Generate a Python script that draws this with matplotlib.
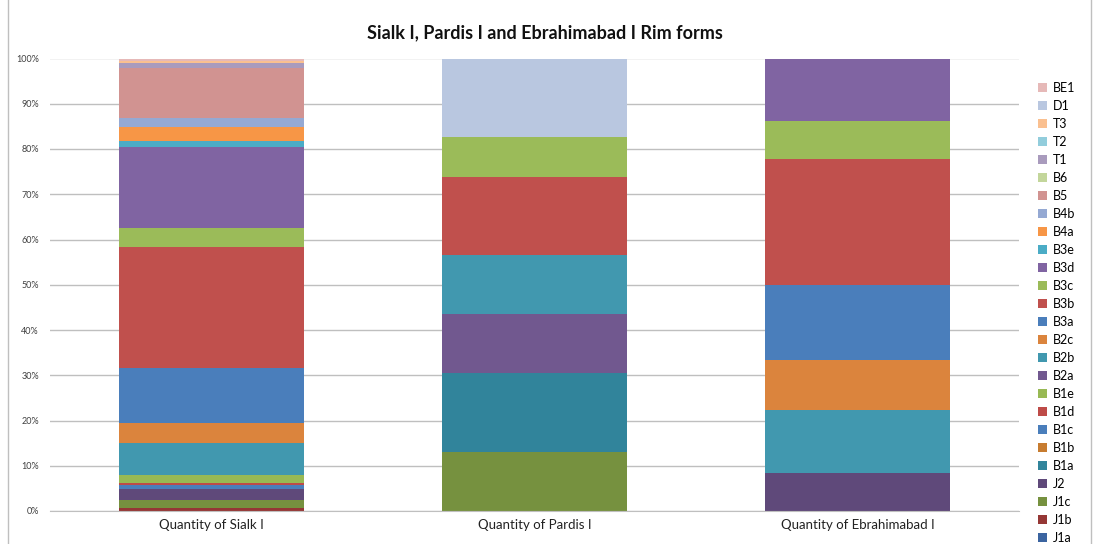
import matplotlib
matplotlib.use("Agg")
import matplotlib.pyplot as plt
from matplotlib.lines import Line2D
from matplotlib.patches import Patch
import numpy as np

# categorias y series (orden de apilado, de abajo hacia arriba)
categories = ["Quantity of Sialk I", "Quantity of Pardis I", "Quantity of Ebrahimabad I"]
series_names = ["J1a", "J1b", "J1c", "J2", "B1a", "B1b", "B1c", "B1d", "B1e",
                "B2a", "B2b", "B2c", "B3a", "B3b", "B3c", "B3d", "B3e",
                "B4a", "B4b", "B5", "B6", "T1", "T2", "T3", "D1", "BE1"]

# valores (porcentaje aproximado / conteos)
sialk = [0, 0.6, 1.8, 2.4, 0, 0, 0.9, 0.45, 1.8,
         0, 7.1, 4.4, 12.2, 26.7, 4.1, 17.8, 1.3,
         3.2, 2.0, 11.0, 0, 1.1, 0, 0.5, 0, 0.5]
pardis = [0, 0, 3, 0, 4, 0, 0, 0, 0,
          3, 3, 0, 0, 4, 2, 0, 0,
          0, 0, 0, 0, 0, 0, 0, 4, 0]
ebrahimabad = [0, 0, 0, 3, 0, 0, 0, 0, 0,
               0, 5, 4, 6, 10, 3, 5, 0,
               0, 0, 0, 0, 0, 0, 0, 0, 0]

colors = ["#3B64A0", "#953735", "#76913F", "#5F497A", "#31849B", "#C77C30",
          "#4A7EBB", "#BE4B48", "#98B954", "#71588F", "#4198AF", "#DB843D",
          "#4A7EBB", "#C0504D", "#9BBB59", "#8064A2", "#4BACC6", "#F79646",
          "#95A9D3", "#D19391", "#C3D69B", "#A99BBD", "#92CDDC", "#FAC090",
          "#B9C7E0", "#E6B9B8"]

plt.rcParams["font.family"] = ["Lato", "DejaVu Sans"]

data = np.array([sialk, pardis, ebrahimabad], dtype=float).T
data = data / data.sum(axis=0) * 100

fig = plt.figure(figsize=(10.93, 5.44), dpi=100)
ax = fig.add_axes([50 / 1093, 1 - 511 / 544, 969 / 1093, (511 - 58.5) / 544])

x = np.arange(len(categories))
bottom = np.zeros(len(categories))
for i, name in enumerate(series_names):
    ax.bar(x, data[i], bottom=bottom, width=0.573, color=colors[i], label=name, linewidth=0)
    bottom += data[i]

ax.set_xlim(-0.5, 2.5)
ax.set_ylim(0, 100)
ax.set_yticks(np.arange(0, 101, 10))
ax.set_yticklabels([f"{v}%" for v in range(0, 101, 10)], fontsize=6.5, color="#404040")
ax.set_xticks(x)
ax.set_xticklabels(categories, fontsize=9.5, color="#222222")
ax.tick_params(axis="y", length=0, pad=8)
ax.tick_params(axis="x", length=0, pad=6)
ax.grid(axis="y", color="#BFBFBF", linewidth=1)
ax.set_axisbelow(True)
for s in ["top", "right", "left"]:
    ax.spines[s].set_visible(False)
ax.spines["bottom"].set_color("#BFBFBF")

fig.text(0.4987, 1 - 33 / 544, "Sialk I, Pardis I and Ebrahimabad I Rim forms",
         ha="center", va="center", fontsize=13, fontweight="bold", color="#111111")

# leyenda en orden inverso (BE1 arriba)
handles = [Patch(facecolor=colors[i], edgecolor="none") for i in range(len(series_names))][::-1]
labels = series_names[::-1]
fig.legend(handles, labels, loc="upper left", bbox_to_anchor=(1038 / 1093, 1 - 82 / 544),
           frameon=False, fontsize=9, labelspacing=0.48, handlelength=0.75,
           handleheight=0.75, handletextpad=0.45, borderaxespad=0, borderpad=0)

# bordes del area del grafico
fig.add_artist(Line2D([8 / 1093, 8 / 1093], [0, 1], color="#BFBFBF", lw=1))
fig.add_artist(Line2D([1091 / 1093, 1091 / 1093], [0, 1], color="#BFBFBF", lw=1))

fig.savefig("out.png", dpi=100)
